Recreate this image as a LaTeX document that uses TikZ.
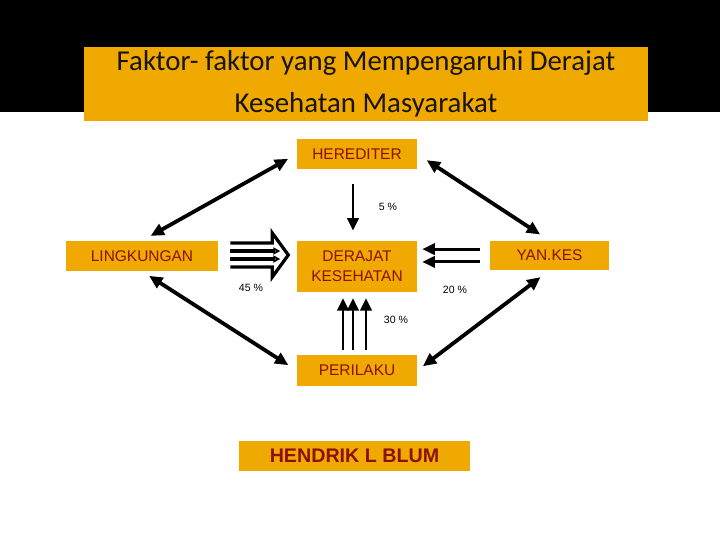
\documentclass[tikz,border=0pt]{standalone}
\usepackage{fontspec}
\setmainfont{Liberation Sans}
\newfontfamily\titlefont{Carlito}
\usepackage{xcolor}
\usepackage{tikz}
\usetikzlibrary{
  arrows.meta,
  positioning,
  calc
}
\definecolor{BoxOrange}{RGB}{239, 169, 0}
\definecolor{DarkRed}{RGB}{139, 16, 0}
\definecolor{TitleInk}{RGB}{25, 20, 10}
\tikzset{
    factor/.style={rectangle, fill=BoxOrange, inner sep=0pt, text=DarkRed,
        font=\fontsize{11}{14}\selectfont, align=center},
    biarrow/.style={line width=2.7pt, {Triangle[length=9.5pt, width=8.5pt]}-{Triangle[length=9.5pt, width=8.5pt]}},
    effect/.style={line width=2.1pt, -{Triangle[length=9pt, width=8pt]}},
    pct/.style={font=\fontsize{7.5}{9}\selectfont, text=black}
}
\begin{document}
\begin{tikzpicture}[x=0.025cm, y=-0.025cm]
    \useasboundingbox (0,0) rectangle (720,540);
    \fill[black] (0,0) rectangle (720,112);

    % title
    \node[rectangle, fill=BoxOrange, minimum width=14.1cm, minimum height=1.85cm, inner sep=0pt,
          text=TitleInk, align=center, font=\titlefont\fontsize{20.5}{29.5}\selectfont] (title) at (366,84)
          {Faktor- faktor yang Mempengaruhi Derajat\\Kesehatan Masyarakat};

    % factors
    \node[factor, minimum width=3cm, minimum height=0.75cm] (hered) at (357,154) {HEREDITER};
    \node[factor, minimum width=3.8cm, minimum height=0.75cm] (ling) at (142,256) {LINGKUNGAN};
    \node[factor, minimum width=3cm, minimum height=1.28cm] (derajat) at (357,266.5) {DERAJAT\\KESEHATAN};
    \node[factor, minimum width=2.98cm, minimum height=0.73cm] (yankes) at (549.5,255.5) {YAN.KES};
    \node[factor, minimum width=3cm, minimum height=0.78cm] (peril) at (357,370.5) {PERILAKU};
    \node[factor, minimum width=5.78cm, minimum height=0.75cm, font=\fontsize{14}{16}\selectfont\bfseries]
          (blum) at (354.5,455.5) {HENDRIK L BLUM};

    % links between factors
    \draw[biarrow, shorten <=7pt, shorten >=7pt] (ling.north) -- (hered.west);
    \draw[biarrow, shorten <=8pt, shorten >=8pt] (hered.east) -- (yankes.north);
    \draw[biarrow, shorten <=6pt, shorten >=7pt] (ling.south) -- (peril.west);
    \draw[biarrow, shorten <=8pt, shorten >=5pt] (yankes.south) -- (peril.east);

    % hereditas 5 %
    \draw[effect, shorten <=10.5pt, shorten >=7pt] ([xshift=-0.1cm]hered.south) -- ([xshift=-0.1cm]derajat.north);
    \node[pct] (p5) at (388,207) {5 \%};

    % lingkungan 45 %
    \coordinate (lstart) at ($(ling.east)+(12,-1)$);
    \draw[line width=2.3pt, line join=miter]
        (lstart) ++(0,-12) -- ++(42,0) -- ++(0,-10) -- ++(16,22) -- ++(-16,22) -- ++(0,-10) -- ++(-42,0);
    \draw[line width=2.2pt, -{Triangle[length=5pt, width=5pt, open]}] ($(lstart)+(0,-4)$) -- ++(50,0);
    \draw[line width=2.2pt, -{Triangle[length=5pt, width=5pt, open]}] ($(lstart)+(0,4)$) -- ++(50,0);
    \node[pct] (p45) at (251,288) {45 \%};

    % yankes 20 %
    \draw[effect, shorten <=7pt, shorten >=3.5pt] ([yshift=0.16cm]yankes.west) -- ([yshift=0.16cm]yankes.west -| derajat.east);
    \draw[effect, shorten <=7pt, shorten >=3.5pt] ([yshift=-0.16cm]yankes.west) -- ([yshift=-0.16cm]yankes.west -| derajat.east);
    \node[pct] (p20) at (455,290) {20 \%};

    % perilaku 30 %
    \foreach \dx in {-14,-4,9}
        \draw[effect, shorten <=3.5pt, shorten >=4pt] ([xshift=\dx*0.025cm]peril.north) -- ([xshift=\dx*0.025cm]derajat.south);
    \node[pct] (p30) at (396,320) {30 \%};
\end{tikzpicture}
\end{document}
